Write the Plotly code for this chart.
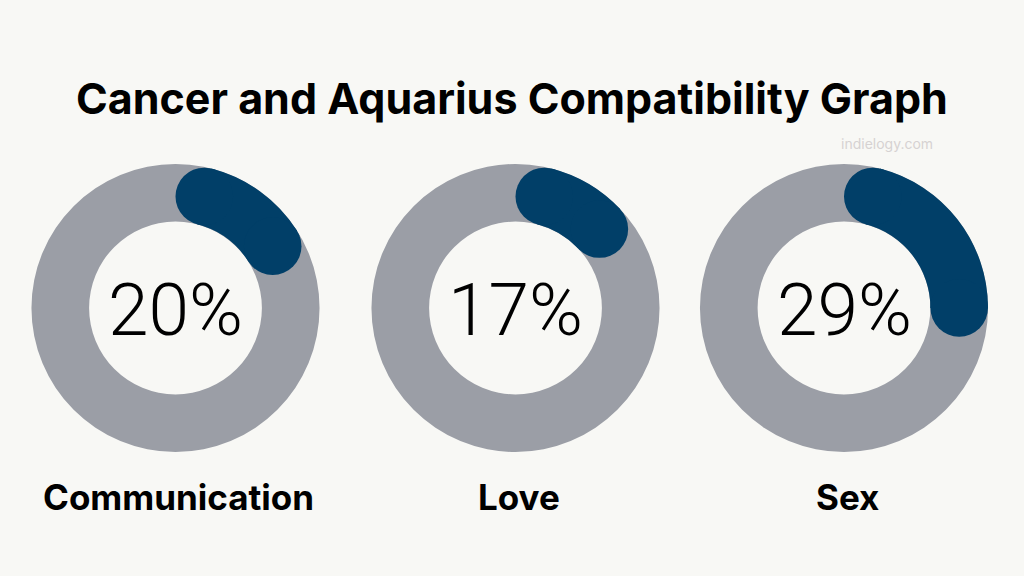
import math
import plotly.graph_objects as go

# ---- data ----
categories = ["Communication", "Love", "Sex"]
percent_values = [20, 17, 29]
title_text = "Cancer and Aquarius Compatibility Graph"
watermark = "indielogy.com"

# ---- geometry / style (pixels) ----
W, H = 1024, 576
centers_x = [175.5, 515.5, 844]
center_y = 308
R_out = 144
hole = 0.6
BLUE = "#013f68"
GREY = "#9b9ea6"
BG = "#f8f8f5"

R_in = R_out * hole
ring = R_out - R_in
r_mid = (R_out + R_in) / 2
cap_deg = math.degrees(math.asin((ring / 2) / r_mid))
cap_pct = cap_deg / 3.6

fig = go.Figure()
shapes = []

for cx, cat, val in zip(centers_x, categories, percent_values):
    dom = dict(x=[(cx - R_out) / W, (cx + R_out) / W],
               y=[1 - (center_y + R_out) / H, 1 - (center_y - R_out) / H])
    # grey full ring
    fig.add_trace(go.Pie(
        values=[100], labels=["all"],
        marker=dict(colors=[GREY], line=dict(width=0)),
        hole=hole, sort=False, textinfo="none", hoverinfo="skip",
        showlegend=False, domain=dom,
    ))
    # blue arc (core part, caps added below)
    core = val - 2 * cap_pct
    rest = 100 - val + cap_pct
    fig.add_trace(go.Pie(
        values=[cap_pct, core, rest],
        labels=["a", "b", "c"],
        marker=dict(colors=["rgba(0,0,0,0)", BLUE, "rgba(0,0,0,0)"], line=dict(width=0)),
        hole=hole, sort=False, direction="clockwise", rotation=0,
        textinfo="none", hoverinfo="skip", showlegend=False, domain=dom,
    ))
    # rounded caps at both ends of the blue arc
    for a in [cap_deg, val * 3.6 - cap_deg]:
        px = cx + r_mid * math.sin(math.radians(a))
        py = center_y - r_mid * math.cos(math.radians(a))
        shapes.append(dict(type="circle", xref="x", yref="y", layer="above",
                           x0=px - ring / 2, x1=px + ring / 2,
                           y0=py - ring / 2, y1=py + ring / 2,
                           fillcolor=BLUE, line=dict(width=0)))
    fig.add_annotation(x=cx, y=center_y + 2, xref="x", yref="y",
                       text=f"{val}%", showarrow=False,
                       font=dict(family="Roboto, Open Sans, sans-serif", size=73,
                                 weight=300, color="#000000"))
    fig.add_annotation(x=cx + 3, y=497, xref="x", yref="y",
                       text=f"<b>{cat}</b>", showarrow=False,
                       font=dict(family="Inter, Open Sans, sans-serif", size=35, color="#000000"))

fig.add_annotation(x=512, y=98, xref="x", yref="y", text=f"<b>{title_text}</b>",
                   showarrow=False,
                   font=dict(family="Inter, sans-serif", size=43, color="#000000"))
fig.add_annotation(x=887, y=143, xref="x", yref="y", text=watermark, showarrow=False,
                   font=dict(family="Inter, Open Sans, sans-serif", size=14, color="#d6d2d2"))

fig.update_layout(
    width=W, height=H, margin=dict(l=0, r=0, t=0, b=0),
    paper_bgcolor=BG, plot_bgcolor="rgba(0,0,0,0)",
    xaxis=dict(range=[0, W], visible=False, fixedrange=True),
    yaxis=dict(range=[H, 0], visible=False, fixedrange=True),
    showlegend=False, shapes=shapes,
)

fig.write_html("out.html", config={"displayModeBar": False},
               post_script="document.body.style.margin='0';document.body.style.background='%s';" % BG)
